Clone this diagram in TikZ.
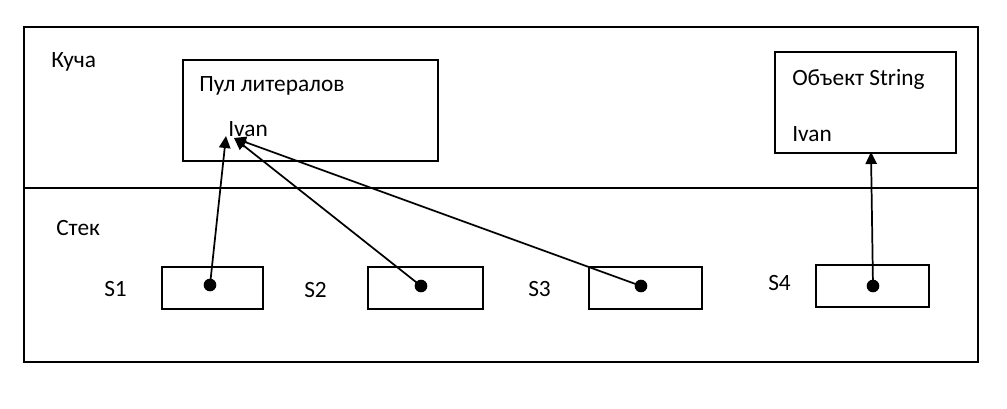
\documentclass[tikz,border=0pt]{standalone}
\usepackage{fontspec}
\setmainfont{Carlito}
\usetikzlibrary{arrows.meta}

\begin{document}
\begin{tikzpicture}[
  x=0.75pt, y=-0.75pt,
  every node/.style={font=\fontsize{17.5}{20}\selectfont},
  frame/.style={draw, line width=1.8pt},
  % boxes are placed by their top left corner
  box/.style={frame, anchor=north west, inner sep=0pt},
  txt/.style={anchor=base west, inner sep=0pt},
  dot/.style={circle, fill, inner sep=0pt, minimum size=9.5pt},
  ref/.style={line width=1.3pt, -{Triangle[length=9pt, width=8.5pt]}}
]
\useasboundingbox (0,0) rectangle (1007,408);

% heap and stack
\draw[frame] (24,27) rectangle (978,362);
\draw[frame, line width=2.2pt] (24,188) -- (978,188);
\node[txt] (heap)  at (51,67)  {Куча};
\node[txt] (stack) at (56,235) {Стек};

% heap contents
\node[box, minimum width=191.5pt, minimum height=75.75pt] (pool) at (181.5,59) {};
\node[txt] (poolname) at (199,91)  {Пул литералов};
\node[txt] (ivanP)    at (228,136) {Ivan};
\node[box, minimum width=135.75pt, minimum height=75.75pt] (str) at (774,51) {};
\node[txt] (strname)  at (792,85)  {Объект String};
\node[txt] (ivanS)    at (792,141) {Ivan};

% stack variables
\node[box, minimum width=75.75pt, minimum height=31.5pt] (s1) at (161,266) {};
\node[box, minimum width=86.25pt, minimum height=31.5pt] (s2) at (367,266) {};
\node[box, minimum width=84.75pt, minimum height=31.5pt] (s3) at (588,266) {};
\node[box, minimum width=84.75pt, minimum height=31.5pt] (s4) at (815,264) {};
\node[txt] (l1) at (104,296) {S1};
\node[txt] (l2) at (304,297) {S2};
\node[txt] (l3) at (528,296) {S3};
\node[txt] (l4) at (768,290) {S4};

\node[dot] (d1) at (210,285) {};
\node[dot] (d2) at (421,286) {};
\node[dot] (d3) at (641,286) {};
\node[dot] (d4) at (873,286) {};

% references
\coordinate (t1) at (226,136);
\coordinate (t2) at (234,138);
\coordinate (t4) at (871,152);
\draw[ref] (d1.center) -- (t1);
\draw[ref] (d2.center) -- (t2);
\draw[ref] (d3.center) -- (t2);
\draw[ref] (d4.center) -- (t4);
\end{tikzpicture}
\end{document}
